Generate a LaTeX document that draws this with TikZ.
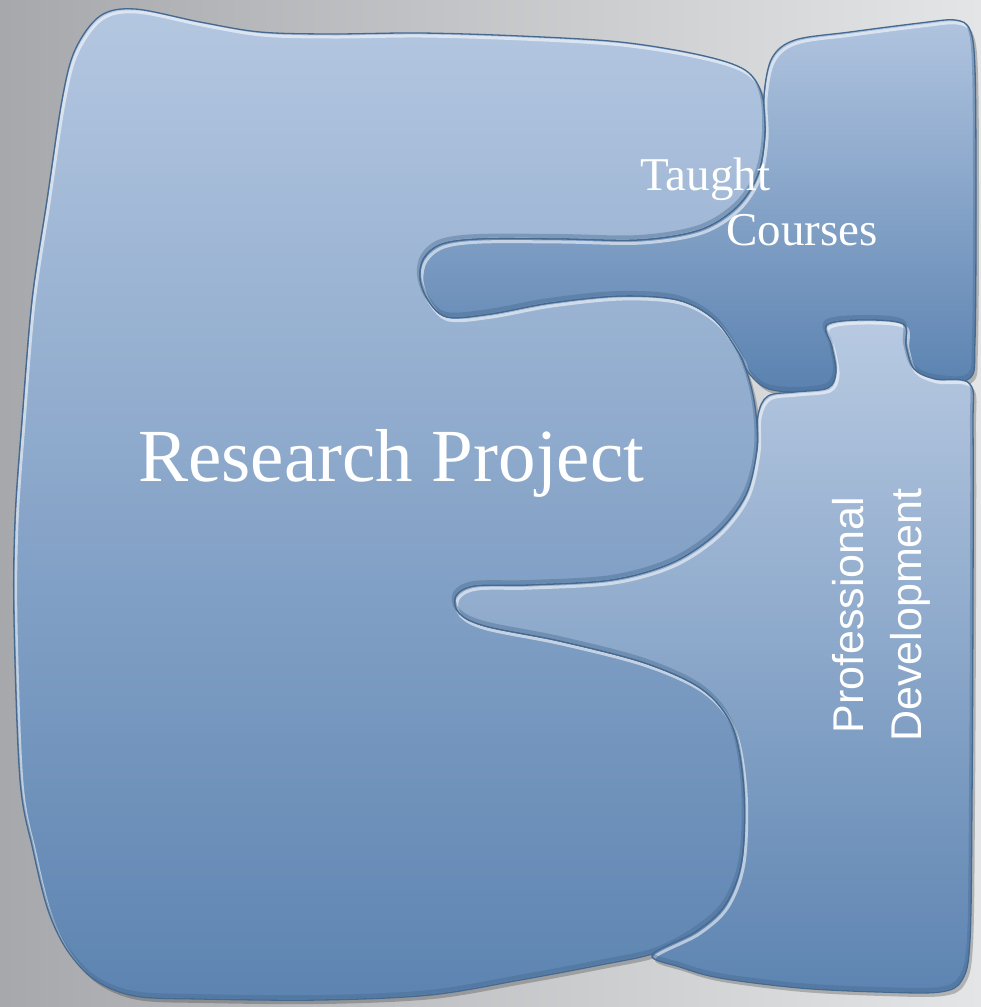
\documentclass[tikz,border=0pt]{standalone}
\usepackage{fontspec}
\setmainfont{Liberation Serif}
\newfontfamily\pdfont{Liberation Sans}

\definecolor{bgdark}{HTML}{A6A8AB}
\definecolor{bglight}{HTML}{E3E5E7}
\definecolor{rptop}{HTML}{B4C7E1}
\definecolor{rpbot}{HTML}{5D84B1}
\definecolor{tctop}{HTML}{B0C4DF}
\definecolor{tcbot}{HTML}{5A82B0}
\definecolor{pdtop}{HTML}{B8CAE2}
\definecolor{pdbot}{HTML}{5D84B1}
\definecolor{rimblue}{HTML}{45698F}

\begin{document}
\begin{tikzpicture}[x=1pt,y=-1pt]
    \tikzstyle{shadow} = [fill=black, opacity=0.22, shift={(3,4)}]
    \tikzstyle{rim} = [draw=rimblue, line width=1.3pt]
    \tikzstyle{hilite} = [draw=white, opacity=0.55, line width=3pt, shift={(2,3)}]
    \tikzstyle{lowlite} = [draw=rimblue, opacity=0.4, line width=4pt, shift={(-1,-3)}]
    \tikzstyle{label} = [text=white, inner sep=0pt]

    % the three pieces, as closed smooth outlines
    \def\research{plot[smooth cycle, tension=0.55] coordinates {
        (100,16) (135,9) (200,22) (260,32) (330,34) (420,33) (520,36) (620,42)
        (700,55) (745,70) (762,95) (765,135) (758,175) (737,207) (700,230)
        (640,240) (560,239) (480,239) (442,244) (424,258) (420,278) (428,300)
        (447,317) (490,314) (550,303) (620,296) (678,300) (715,320) (740,355)
        (754,400) (757,450) (746,495) (717,533) (672,563) (612,580) (530,585)
        (475,586) (456,596) (459,613) (485,626) (560,641) (645,663) (703,690)
        (733,728) (744,790) (742,860) (726,904) (697,931) (655,953) (600,965)
        (520,980) (430,995) (320,1000) (200,999) (135,996) (95,980) (67,950)
        (48,910) (33,850) (20,780) (14,620) (15,520) (22,420) (32,300)
        (47,200) (62,100) (75,50)}}
    \def\taught{plot[smooth cycle, tension=0.55] coordinates {
        (772,58) (795,40) (850,32) (920,23) (955,20) (970,30) (975,70)
        (976,200) (975,340) (970,378) (935,379) (914,369) (906,346) (903,324)
        (862,320) (827,325) (832,347) (836,372) (828,388) (795,392) (766,388)
        (748,372) (740,355) (715,320) (678,300) (620,296) (550,303) (490,314)
        (447,317) (428,300) (420,278) (424,258) (442,244) (480,239) (560,239)
        (640,240) (700,230) (737,207) (758,175) (765,135) (764,95)}}
    \def\profdev{plot[smooth cycle, tension=0.55] coordinates {
        (768,396) (795,392) (828,388) (836,372) (832,347) (827,325) (862,320)
        (903,324) (906,346) (914,369) (935,379) (970,384) (973,430) (973,600)
        (972,800) (970,940) (962,980) (940,992) (880,992) (800,988) (720,978)
        (680,967) (652,955) (697,931) (726,904) (742,860) (744,790) (733,728)
        (703,690) (645,663) (560,641) (485,626) (459,613) (456,596) (475,586)
        (530,585) (612,580) (672,563) (717,533) (746,495) (757,450) (758,415)}}

    \useasboundingbox (0,0) rectangle (981,1007);
    \shade[left color=bgdark, right color=bglight] (0,0) rectangle (981,1007);

    \fill[shadow] \research;
    \fill[shadow] \taught;
    \fill[shadow] \profdev;

    % research project
    \shade[top color=rptop, bottom color=rpbot] \research;
    \begin{scope}
        \clip \research;
        \draw[hilite] \research;
        \draw[lowlite] \research;
    \end{scope}
    \draw[rim] \research;

    % taught courses
    \shade[top color=tctop, bottom color=tcbot] \taught;
    \begin{scope}
        \clip \taught;
        \draw[hilite] \taught;
        \draw[lowlite] \taught;
    \end{scope}
    \draw[rim] \taught;

    % professional development
    \shade[top color=pdtop, bottom color=pdbot] \profdev;
    \begin{scope}
        \clip \profdev;
        \draw[hilite] \profdev;
        \draw[lowlite] \profdev;
    \end{scope}
    \draw[rim] \profdev;

    \node[label, anchor=base west, font=\fontsize{75}{80}\selectfont] (research) at (138,481) {Research Project};
    \node[label, anchor=base west, font=\fontsize{47}{52}\selectfont] (taught) at (640,190) {Taught};
    \node[label, anchor=base west, font=\fontsize{47}{52}\selectfont] (courses) at (726,245) {Courses};
    \node[label, anchor=base, rotate=90, font=\pdfont\fontsize{43}{48}\selectfont] (prof) at (863,615) {Professional};
    \node[label, anchor=base, rotate=90, font=\pdfont\fontsize{43}{48}\selectfont] (devel) at (921,615) {Development};
\end{tikzpicture}
\end{document}
